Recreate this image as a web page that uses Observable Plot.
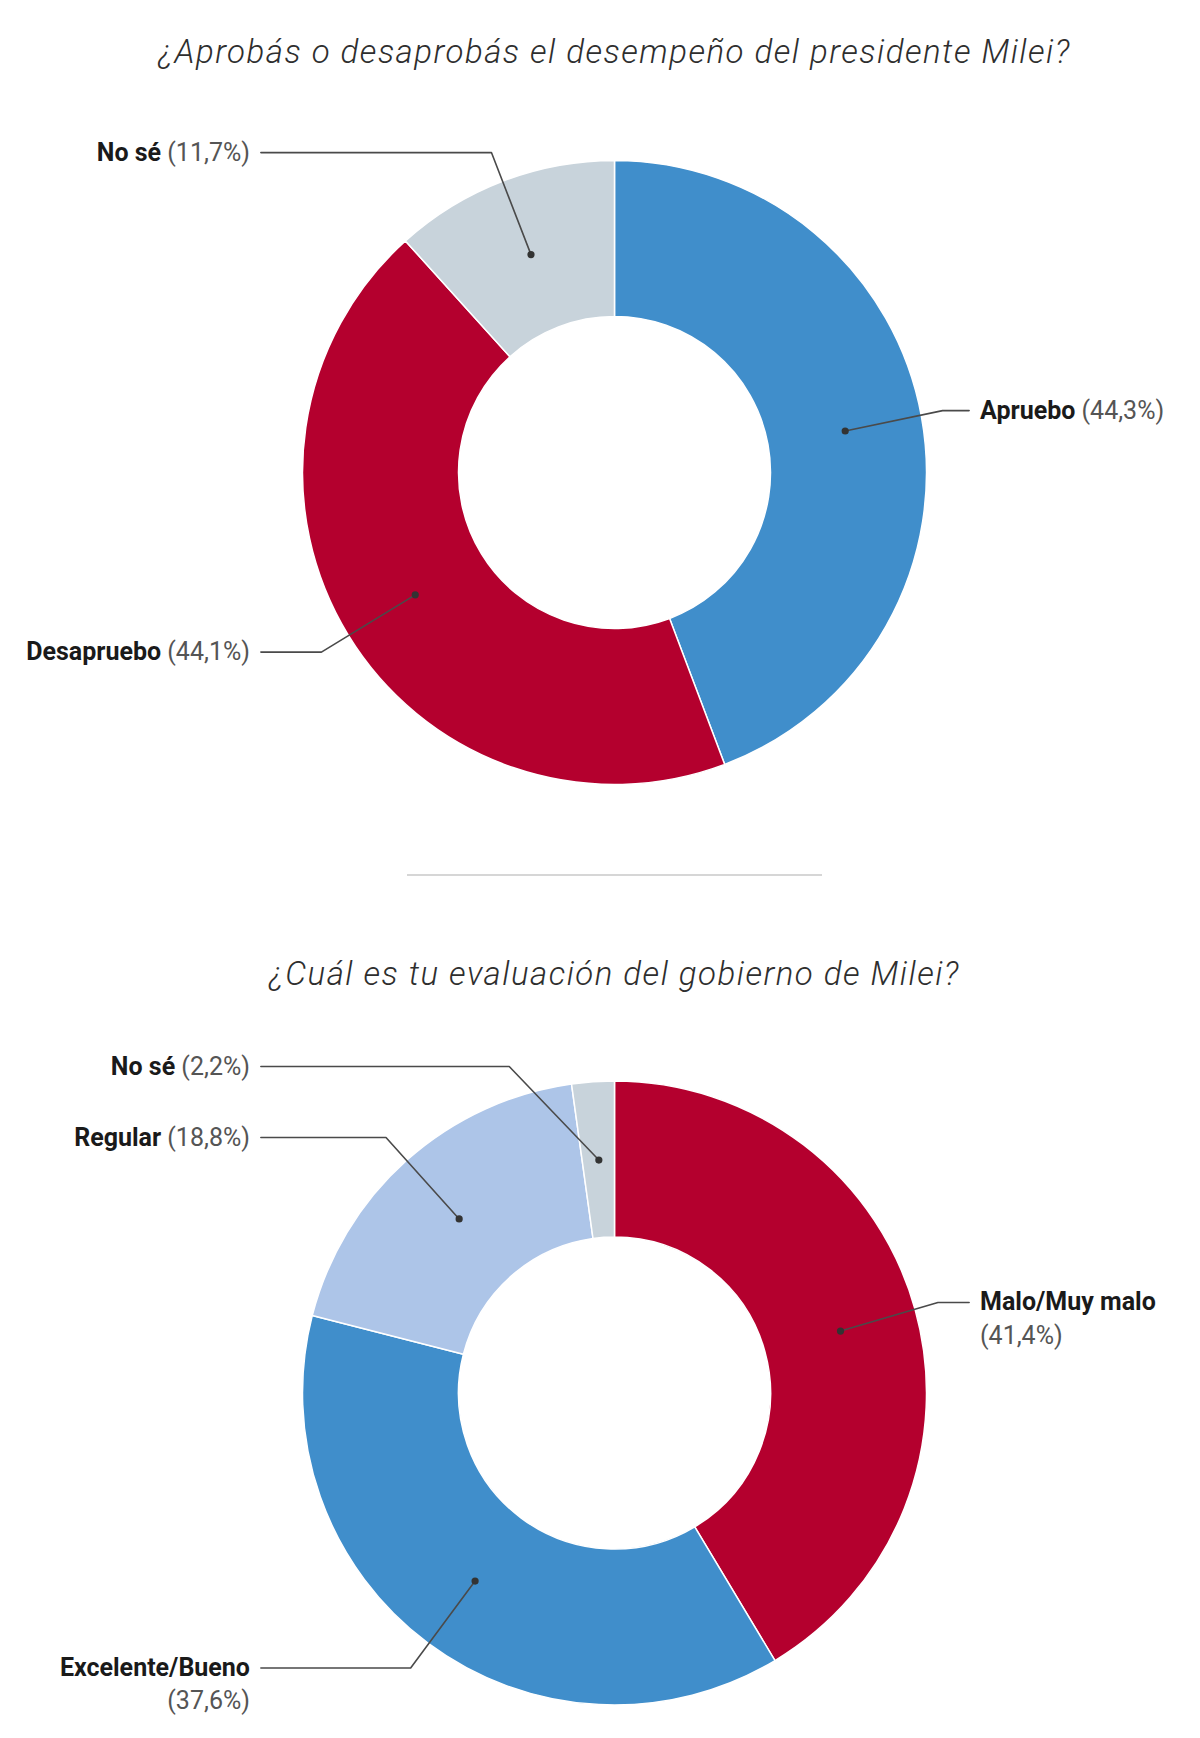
<!DOCTYPE html>
<html>
<head>
<meta charset="utf-8">
<script src="https://cdn.jsdelivr.net/npm/d3@7"></script>
<script src="https://cdn.jsdelivr.net/npm/@observablehq/plot@0.6"></script>
<style>
  html, body { margin: 0; padding: 0; background: #fff; }
  body { position: relative; width: 1200px; height: 1738px; overflow: hidden; font-family: Roboto, "Noto Sans", sans-serif; }
  .title { position: absolute; left: 0; width: 1229px; height: 44px; line-height: 44px; text-align: center;
           font-family: Roboto, sans-serif; font-style: italic; font-weight: 300; font-size: 33px; letter-spacing: 1.5px; color: #2e2e2e; white-space: nowrap; }
  .sep { position: absolute; left: 407px; width: 415px; top: 874px; height: 2px; background: #d6d6d6; }
  .chart { position: absolute; left: 0; }
  .chart svg { display: block; overflow: visible; }
</style>
</head>
<body>
<div class="title" id="t1" style="top:30px"></div>
<div class="chart" id="c1" style="top:104px"></div>
<div class="sep"></div>
<div class="title" id="t2" style="top:952px"></div>
<div class="chart" id="c2" style="top:1018px"></div>
<script>
// ---------- data ----------
const q1Title = "¿Aprobás o desaprobás el desempeño del presidente Milei?";
const q1Categories = ["Apruebo", "Desapruebo", "No sé"];
const q1Values = [44.3, 44.1, 11.7];

const q2Title = "¿Cuál es tu evaluación del gobierno de Milei?";
const q2Categories = ["Malo/Muy malo", "Excelente/Bueno", "Regular", "No sé"];
const q2Values = [41.4, 37.6, 18.8, 2.2];

// ---------- styles ----------
const q1Colors = ["#408ecb", "#b4002e", "#c8d3db"];
const q2Colors = ["#b4002e", "#408ecb", "#adc5e8", "#c8d3db"];

// ---------- label layout (in donut-radius units) ----------
const q1LabelY = [0.200, -0.574, 1.027];
const q1BendX  = [1.05, -0.941, -0.396];
const q1Side   = ["right", "left", "left"];
const q1Wrap   = [false, false, false];

const q2LabelY = [0.2917, -0.880, 0.8205, 1.048];
const q2BendX  = [1.035, -0.655, -0.734, -0.339];
const q2Side   = ["right", "left", "left", "left"];
const q2Wrap   = [true, true, false, false];

const INNER = 0.5, RMID = 0.75, TEXT_X = 1.17, LINE_X = 1.135, R_PX = 312, CX_PX = 614.5;
const NS = "http://www.w3.org/2000/svg";

function pct(v) { return "(" + v.toFixed(1).replace(".", ",") + "%)"; }

function donutChart(cats, vals, colors, labelY, bendX, side, wrap, height, cy) {
  const arcs = d3.pie().sort(null).value(d => d)(vals);
  const slices = arcs.map((a, i) => ({key: cats[i], value: vals[i], start: a.startAngle, end: a.endAngle}));
  const dots = slices.map(s => {
    const m = (s.start + s.end) / 2;
    return {key: s.key, x: RMID * Math.sin(m), y: RMID * Math.cos(m)};
  });
  const labels = cats.map((c, i) => ({
    key: c, name: c, pct: pct(vals[i]), wrap: wrap[i],
    x: side[i] === "right" ? TEXT_X : -TEXT_X, y: labelY[i],
    anchor: side[i] === "right" ? "start" : "end"
  }));
  const leaders = [];
  cats.forEach((c, i) => {
    leaders.push({key: c, x: dots[i].x, y: dots[i].y});
    leaders.push({key: c, x: bendX[i], y: labelY[i]});
    leaders.push({key: c, x: side[i] === "right" ? LINE_X : -LINE_X, y: labelY[i]});
  });

  const ring = (index, scales) => {
    const ox = scales.x(0), oy = scales.y(0);
    const R = scales.x(1) - ox;
    const arc = d3.arc().innerRadius(R * INNER).outerRadius(R);
    const g = d3.create("svg:g").attr("transform", `translate(${ox},${oy})`);
    g.selectAll("path").data(slices).join("path")
      .attr("d", d => arc({startAngle: d.start, endAngle: d.end}))
      .attr("fill", d => scales.color(d.key))
      .attr("stroke", "#fff").attr("stroke-width", 1.5).attr("stroke-linejoin", "round");
    return g.node();
  };

  const svg = Plot.plot({
    width: 1200, height,
    marginTop: 0, marginRight: 0, marginBottom: 0, marginLeft: 0,
    x: {domain: [-1, 1], range: [CX_PX - R_PX, CX_PX + R_PX], axis: null},
    y: {domain: [-1, 1], range: [cy + R_PX, cy - R_PX], axis: null},
    color: {domain: cats, range: colors},
    style: {fontFamily: "Roboto, sans-serif", background: "transparent", overflow: "visible"},
    marks: [
      ring,
      Plot.line(leaders, {x: "x", y: "y", z: "key", stroke: "#4a4a4a", strokeWidth: 1.6, curve: "linear"}),
      Plot.dot(dots, {x: "x", y: "y", r: 3.6, fill: "#333", stroke: "none"}),
      Plot.text(labels, {x: "x", y: "y", text: "name", textAnchor: d => d.anchor, fontSize: 25, fill: "#1a1a1a"})
    ]
  });

  // split labels into bold name + regular percentage
  const texts = svg.querySelectorAll('g[aria-label="text"] text');
  texts.forEach((t, i) => {
    const L = labels[i];
    const x = t.getAttribute("x") ?? "0";
    t.setAttribute("text-anchor", L.anchor);
    t.textContent = "";
    const b = document.createElementNS(NS, "tspan");
    b.setAttribute("font-weight", "700");
    b.setAttribute("fill", "#1a1a1a");
    b.textContent = L.name;
    t.appendChild(b);
    const p = document.createElementNS(NS, "tspan");
    p.setAttribute("font-weight", "400");
    p.setAttribute("fill", "#555");
    if (L.wrap) {
      p.setAttribute("x", x);
      p.setAttribute("dy", "1.33em");
      p.textContent = L.pct;
    } else {
      p.textContent = "\u00a0" + L.pct;
    }
    t.appendChild(p);
  });
  return svg;
}

document.getElementById("t1").textContent = q1Title;
document.getElementById("t2").textContent = q2Title;
document.getElementById("c1").appendChild(
  donutChart(q1Categories, q1Values, q1Colors, q1LabelY, q1BendX, q1Side, q1Wrap, 716, 368.5));
document.getElementById("c2").appendChild(
  donutChart(q2Categories, q2Values, q2Colors, q2LabelY, q2BendX, q2Side, q2Wrap, 720, 375));
</script>
</body>
</html>
